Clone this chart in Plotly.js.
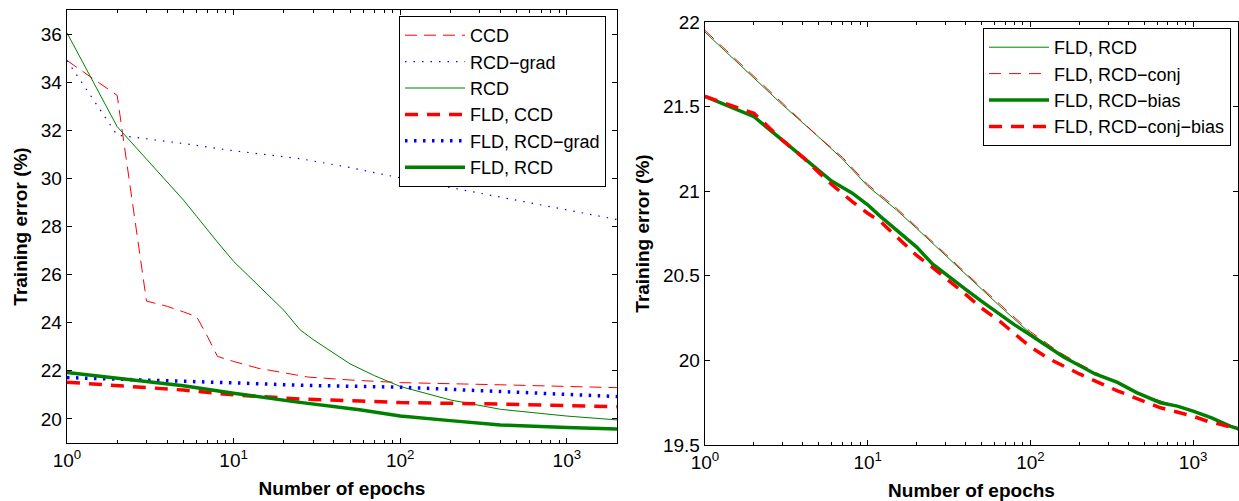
<!DOCTYPE html>
<html>
<head>
<meta charset="utf-8">
<script src="https://cdn.plot.ly/plotly-3.0.1.min.js"></script>
<style>html,body{margin:0;padding:0;background:#fff;}#chart{width:1239px;height:501px;}</style>
</head>
<body>
<div id="chart"></div>
<script>
// ---------- Left panel data ----------
const L_CCD_x = [1,2,3,4,5,6,7,8,10,14,20,28,50,100,400,1000,2000];
const L_CCD_y = [34.9,33.45,24.9,24.68,24.45,24.25,23.4,22.6,22.39,22.11,21.92,21.74,21.62,21.51,21.42,21.35,21.30];

const L_RCDgrad_x = [1,2,5,10,25,50,100,200,400,1000,2000];
const L_RCDgrad_y = [34.9,31.8,31.45,31.15,30.82,30.45,30.02,29.62,29.22,28.69,28.29];

const L_RCD_x = [1,2,3,4,5,6,7,8,10,15,20,25,30,50,70,100,200,400,1000,2000];
const L_RCD_y = [36.05,32.15,30.8,29.85,29.1,28.42,27.84,27.35,26.55,25.37,24.52,23.71,23.3,22.29,21.8,21.35,20.79,20.40,20.12,19.96];

const L_FLD_CCD_x = [1,2,3,5,10,25,57,100,400,1000,2000];
const L_FLD_CCD_y = [21.53,21.4,21.32,21.2,21.0,20.83,20.75,20.68,20.62,20.55,20.51];

const L_FLD_RCDgrad_x = [1,2,5,10,25,57,100,400,1000,2000];
const L_FLD_RCDgrad_y = [21.72,21.66,21.56,21.5,21.4,21.35,21.32,21.14,21.0,20.93];

const L_FLD_RCD_x = [1,2,4,5,10,23,57,100,200,400,1000,2000];
const L_FLD_RCD_y = [21.93,21.69,21.45,21.38,21.07,20.72,20.38,20.12,19.93,19.75,19.64,19.58];

// ---------- Right panel data ----------
const R_RCD_x = [1,2,3,5,7,10,15,20,30,50,65,100,150,200,300,500,1000,2000];
const R_RCD_y = [21.94,21.67,21.51,21.32,21.19,21.03,20.89,20.78,20.62,20.42,20.32,20.16,20.04,19.97,19.89,19.79,19.70,19.59];

const R_RCDconj_x = [1,2,3,5,7,10,15,20,30,50,65,100,150,200,300,500,1000,2000];
const R_RCDconj_y = [21.95,21.68,21.52,21.32,21.20,21.04,20.90,20.79,20.63,20.43,20.33,20.17,20.05,19.98,19.89,19.79,19.70,19.59];

const R_RCDbias_x = [1,2,3,4,5,6,8,9,10,12,15,18,20,25,30,40,50,65,80,100,130,160,200,250,343,450,630,800,1000,1300,1700,2000];
const R_RCDbias_y = [21.56,21.44,21.30,21.20,21.12,21.06,20.99,20.95,20.92,20.85,20.77,20.71,20.67,20.57,20.51,20.42,20.35,20.27,20.21,20.15,20.08,20.02,19.97,19.92,19.87,19.81,19.75,19.73,19.70,19.66,19.61,19.59];

const R_RCDconjbias_x = [1,2,3,4,5,6,8,10,12,15,20,25,30,40,50,65,100,130,200,343,630,1000,1230,2000];
const R_RCDconjbias_y = [21.56,21.46,21.30,21.20,21.11,21.04,20.94,20.87,20.82,20.73,20.62,20.55,20.49,20.39,20.31,20.23,20.08,20.01,19.92,19.82,19.72,19.67,19.64,19.59];

const xTickVals = [1,10,100,1000];
const xTickText = ['10<sup>0</sup>','10<sup>1</sup>','10<sup>2</sup>','10<sup>3</sup>'];
const xMinorTickVals = [2,3,4,5,6,7,8,9,20,30,40,50,60,70,80,90,200,300,400,500,600,700,800,900,2000];

const FONT = 'Liberation Sans, Arial, Helvetica, sans-serif';
const RED = '#ff0000', BLUE = '#0000ff', GREEN = '#008000';

function tr(x, y, name, color, width, dash, xa, ya, leg) {
  return {x: x, y: y, name: name, type: 'scatter', mode: 'lines',
    line: {color: color, width: width, dash: dash},
    xaxis: xa, yaxis: ya, legend: leg, hoverinfo: 'skip'};
}

const data = [
  tr(L_CCD_x, L_CCD_y, 'CCD', RED, 1, '12px,7px', 'x', 'y', 'legend'),
  tr(L_RCDgrad_x, L_RCDgrad_y, 'RCD−grad', BLUE, 1.2, '1.5px,7px', 'x', 'y', 'legend'),
  tr(L_RCD_x, L_RCD_y, 'RCD', GREEN, 1, 'solid', 'x', 'y', 'legend'),
  tr(L_FLD_CCD_x, L_FLD_CCD_y, 'FLD, CCD', RED, 3.5, '13px,9px', 'x', 'y', 'legend'),
  tr(L_FLD_RCDgrad_x, L_FLD_RCDgrad_y, 'FLD, RCD−grad', BLUE, 3.5, '2.5px,6.5px', 'x', 'y', 'legend'),
  tr(L_FLD_RCD_x, L_FLD_RCD_y, 'FLD, RCD', GREEN, 3.5, 'solid', 'x', 'y', 'legend'),

  tr(R_RCD_x, R_RCD_y, 'FLD, RCD', GREEN, 1, 'solid', 'x2', 'y2', 'legend2'),
  tr(R_RCDconj_x, R_RCDconj_y, 'FLD, RCD−conj', RED, 1, '12px,8px', 'x2', 'y2', 'legend2'),
  tr(R_RCDbias_x, R_RCDbias_y, 'FLD, RCD−bias', GREEN, 3.5, 'solid', 'x2', 'y2', 'legend2'),
  tr(R_RCDconjbias_x, R_RCDconjbias_y, 'FLD, RCD−conj−bias', RED, 3.5, '13px,9px', 'x2', 'y2', 'legend2')
];

function xaxisDef(domain, range, anchor) {
  return {
    type: 'log', domain: domain, range: range, anchor: anchor,
    showline: true, mirror: 'allticks', linecolor: '#000', linewidth: 1.3,
    ticks: 'inside', ticklen: 5, tickcolor: '#000', tickwidth: 1,
    tickmode: 'array', tickvals: xTickVals, ticktext: xTickText,
    minor: {tickmode: 'array', tickvals: xMinorTickVals, ticks: 'inside', ticklen: 3,
            tickcolor: '#000', tickwidth: 1, showgrid: false},
    showgrid: false, zeroline: false, automargin: false,
    tickfont: {family: FONT, size: 19, color: '#000'},
    title: {text: '<b>Number of epochs</b>', font: {family: FONT, size: 19, color: '#000'}, standoff: 11}
  };
}
function yaxisDef(domain, range, dtick, anchor) {
  return {
    domain: domain, range: range, dtick: dtick, tick0: 0, anchor: anchor,
    showline: true, mirror: 'allticks', linecolor: '#000', linewidth: 1.3,
    ticks: 'inside', ticklen: 5, tickcolor: '#000', tickwidth: 1,
    showgrid: false, zeroline: false, automargin: false,
    tickfont: {family: FONT, size: 19, color: '#000'},
    title: {text: '<b>Training error (%)</b>', font: {family: FONT, size: 19, color: '#000'}, standoff: 8}
  };
}

const LEGFONT = {family: FONT, size: 18, color: '#000'};
const layout = {
  width: 1239, height: 501,
  margin: {l: 0, r: 0, t: 0, b: 0},
  paper_bgcolor: '#fff', plot_bgcolor: '#fff',
  font: {family: FONT, size: 19, color: '#000'},
  showlegend: true,
  xaxis: xaxisDef([67/1239, 617/1239], [0, Math.log10(2000)], 'y'),
  yaxis: yaxisDef([(501-443)/501, (501-10)/501], [19, 37], 2, 'x'),
  xaxis2: xaxisDef([705/1239, 1238/1239], [0, 3.276], 'y2'),
  yaxis2: yaxisDef([(501-445)/501, (501-22)/501], [19.5, 22], 0.5, 'x2'),
  legend: {x: 606/1239, xanchor: 'right', y: (501-16)/501, yanchor: 'top',
    bgcolor: '#fff', bordercolor: '#000', borderwidth: 1, itemwidth: 60, tracegroupgap: 0,
    font: LEGFONT},
  legend2: {x: 1231/1239, xanchor: 'right', y: (501-28)/501, yanchor: 'top',
    bgcolor: '#fff', bordercolor: '#000', borderwidth: 1, itemwidth: 60, tracegroupgap: 0,
    font: LEGFONT}
};

Plotly.newPlot('chart', data, layout, {staticPlot: true, displayModeBar: false});
</script>
</body>
</html>
